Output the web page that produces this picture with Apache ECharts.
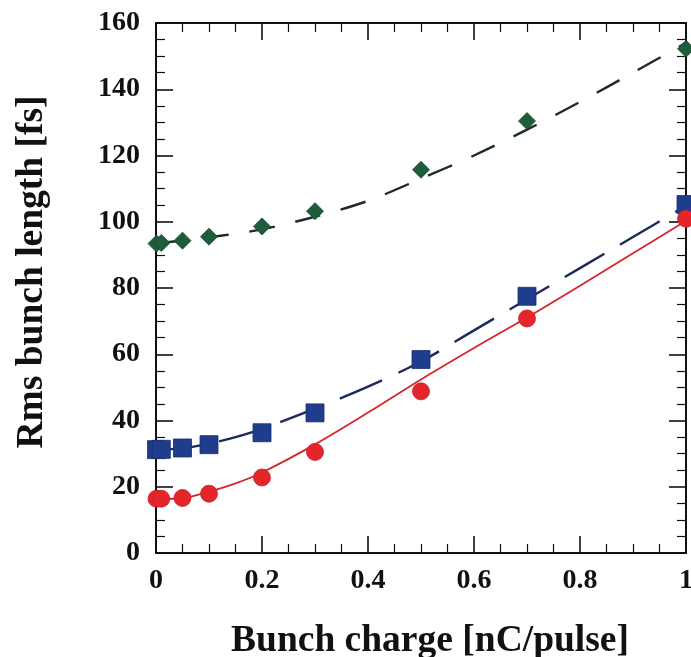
<!DOCTYPE html>
<html>
<head>
<meta charset="utf-8">
<script src="https://cdn.jsdelivr.net/npm/echarts@6/dist/echarts.min.js"></script>
<style>
  html, body { margin: 0; padding: 0; background: #ffffff; }
  #chart { width: 691px; height: 657px; }
</style>
</head>
<body>
<div id="chart"></div>
<script>
// Measured bunch charge (nC/pulse)
const charge = [0.001, 0.01, 0.05, 0.1, 0.2, 0.3, 0.5, 0.7, 1.0];
// Measured rms bunch length (fs)
const diamondValues = [93.4, 93.6, 94.3, 95.5, 98.6, 103.2, 115.7, 130.4, 152.2];
const squareValues  = [31.2, 31.3, 31.7, 32.7, 36.3, 42.3, 58.4, 77.5, 105.2];
const circleValues  = [16.4, 16.4, 16.6, 17.9, 22.8, 30.5, 48.8, 70.8, 100.9];

// Fitted curves, sampled along the charge axis
const fitCharge  = [0, 0.05, 0.1, 0.15, 0.2, 0.3, 0.4, 0.5, 0.6, 0.7, 0.8, 0.9, 1.0];
const diamondFit = [93.5, 94.3, 95.3, 96.4, 97.7, 101.5, 106.3, 113.0, 120.0, 127.8, 136.2, 145.0, 154.0];
const squareFit  = [31.2, 31.6, 33.0, 35.0, 37.5, 43.6, 50.2, 57.8, 67.2, 76.6, 86.0, 95.4, 104.8];
const circleFit  = [16.3, 16.6, 18.5, 21.0, 24.3, 32.8, 42.4, 52.4, 61.9, 71.1, 80.7, 90.5, 100.3];

// Axis tick labels
const xTickLabels = ['0', '0.2', '0.4', '0.6', '0.8', '1'];
const yTickLabels = ['0', '20', '40', '60', '80', '100', '120', '140', '160'];

const xTitle = 'Bunch charge [nC/pulse]';
const yTitle = 'Rms bunch length [fs]';

const pairs = (xs, ys) => xs.map((x, i) => [x, ys[i]]);
const serif = "'Liberation Serif', 'Times New Roman', serif";

const frameLine = { show: true, onZero: false, lineStyle: { color: '#111', width: 2 } };
const majorTick = { show: true, inside: true, length: 17, lineStyle: { color: '#111', width: 1.6 } };
const minorTick = { show: true, splitNumber: 4, length: 9, lineStyle: { color: '#111', width: 1.2 } };
const tickFont = { fontFamily: serif, fontWeight: 'bold', fontSize: 28, color: '#111' };

const xBase = {
  type: 'value', min: 0, max: 1, interval: 0.2,
  axisLine: frameLine, axisTick: majorTick, minorTick: minorTick,
  splitLine: { show: false }, minorSplitLine: { show: false }
};
const yBase = {
  type: 'value', min: 0, max: 160, interval: 20,
  axisLine: frameLine, axisTick: majorTick, minorTick: minorTick,
  splitLine: { show: false }, minorSplitLine: { show: false }
};

const chart = echarts.init(document.getElementById('chart'), null, { renderer: 'canvas' });

chart.setOption({
  backgroundColor: '#ffffff',
  animation: false,
  grid: { left: 156, right: 5, top: 23, bottom: 104, containLabel: false, outerBoundsMode: 'none' },
  xAxis: [
    Object.assign({}, xBase, {
      position: 'bottom',
      axisLabel: Object.assign({}, tickFont, {
        margin: 14,
        formatter: v => xTickLabels[Math.round(v / 0.2)]
      }),
      name: xTitle,
      nameLocation: 'middle',
      nameGap: 69,
      nameTextStyle: { fontFamily: serif, fontWeight: 'bold', fontSize: 37.5, color: '#111', padding: [0, 0, 0, 18] }
    }),
    Object.assign({}, xBase, { position: 'top', axisLabel: { show: false } })
  ],
  yAxis: [
    Object.assign({}, yBase, {
      position: 'left',
      axisLabel: Object.assign({}, tickFont, {
        margin: 16,
        formatter: v => yTickLabels[Math.round(v / 20)]
      })
    }),
    Object.assign({}, yBase, { position: 'right', axisLabel: { show: false } })
  ],
  graphic: [{
    type: 'text',
    x: 32, y: 272,
    rotation: Math.PI / 2,
    style: {
      text: yTitle,
      font: "bold 37.5px 'Liberation Serif', 'Times New Roman', serif",
      fill: '#111',
      textAlign: 'center',
      textVerticalAlign: 'middle'
    }
  }],
  series: [
    {
      type: 'line', data: pairs(fitCharge, diamondFit), smooth: 0.3,
      showSymbol: false, z: 2,
      lineStyle: { color: '#1d2d24', width: 2.4, type: [26, 21] }
    },
    {
      type: 'line', data: pairs(fitCharge, squareFit), smooth: 0.3,
      showSymbol: false, z: 2,
      lineStyle: { color: '#1c2a5e', width: 2.4, type: [46, 18] }
    },
    {
      type: 'line', data: pairs(fitCharge, circleFit), smooth: 0.3,
      showSymbol: false, z: 2,
      lineStyle: { color: '#d3262c', width: 1.8 }
    },
    {
      type: 'scatter', data: pairs(charge, diamondValues), z: 5,
      symbol: 'diamond', symbolSize: [17, 17],
      itemStyle: { color: '#1e5c3c', borderColor: '#154a2e', borderWidth: 0.8, opacity: 1 }
    },
    {
      type: 'scatter', data: pairs(charge, squareValues), z: 5,
      symbol: 'rect', symbolSize: 18,
      itemStyle: { color: '#203c8c', borderColor: '#172f70', borderWidth: 0.8, opacity: 1 }
    },
    {
      type: 'scatter', data: pairs(charge, circleValues), z: 6,
      symbol: 'circle', symbolSize: 17,
      itemStyle: { color: '#e4262b', borderColor: '#c81e24', borderWidth: 0.8, opacity: 1 }
    }
  ]
});
</script>
</body>
</html>
